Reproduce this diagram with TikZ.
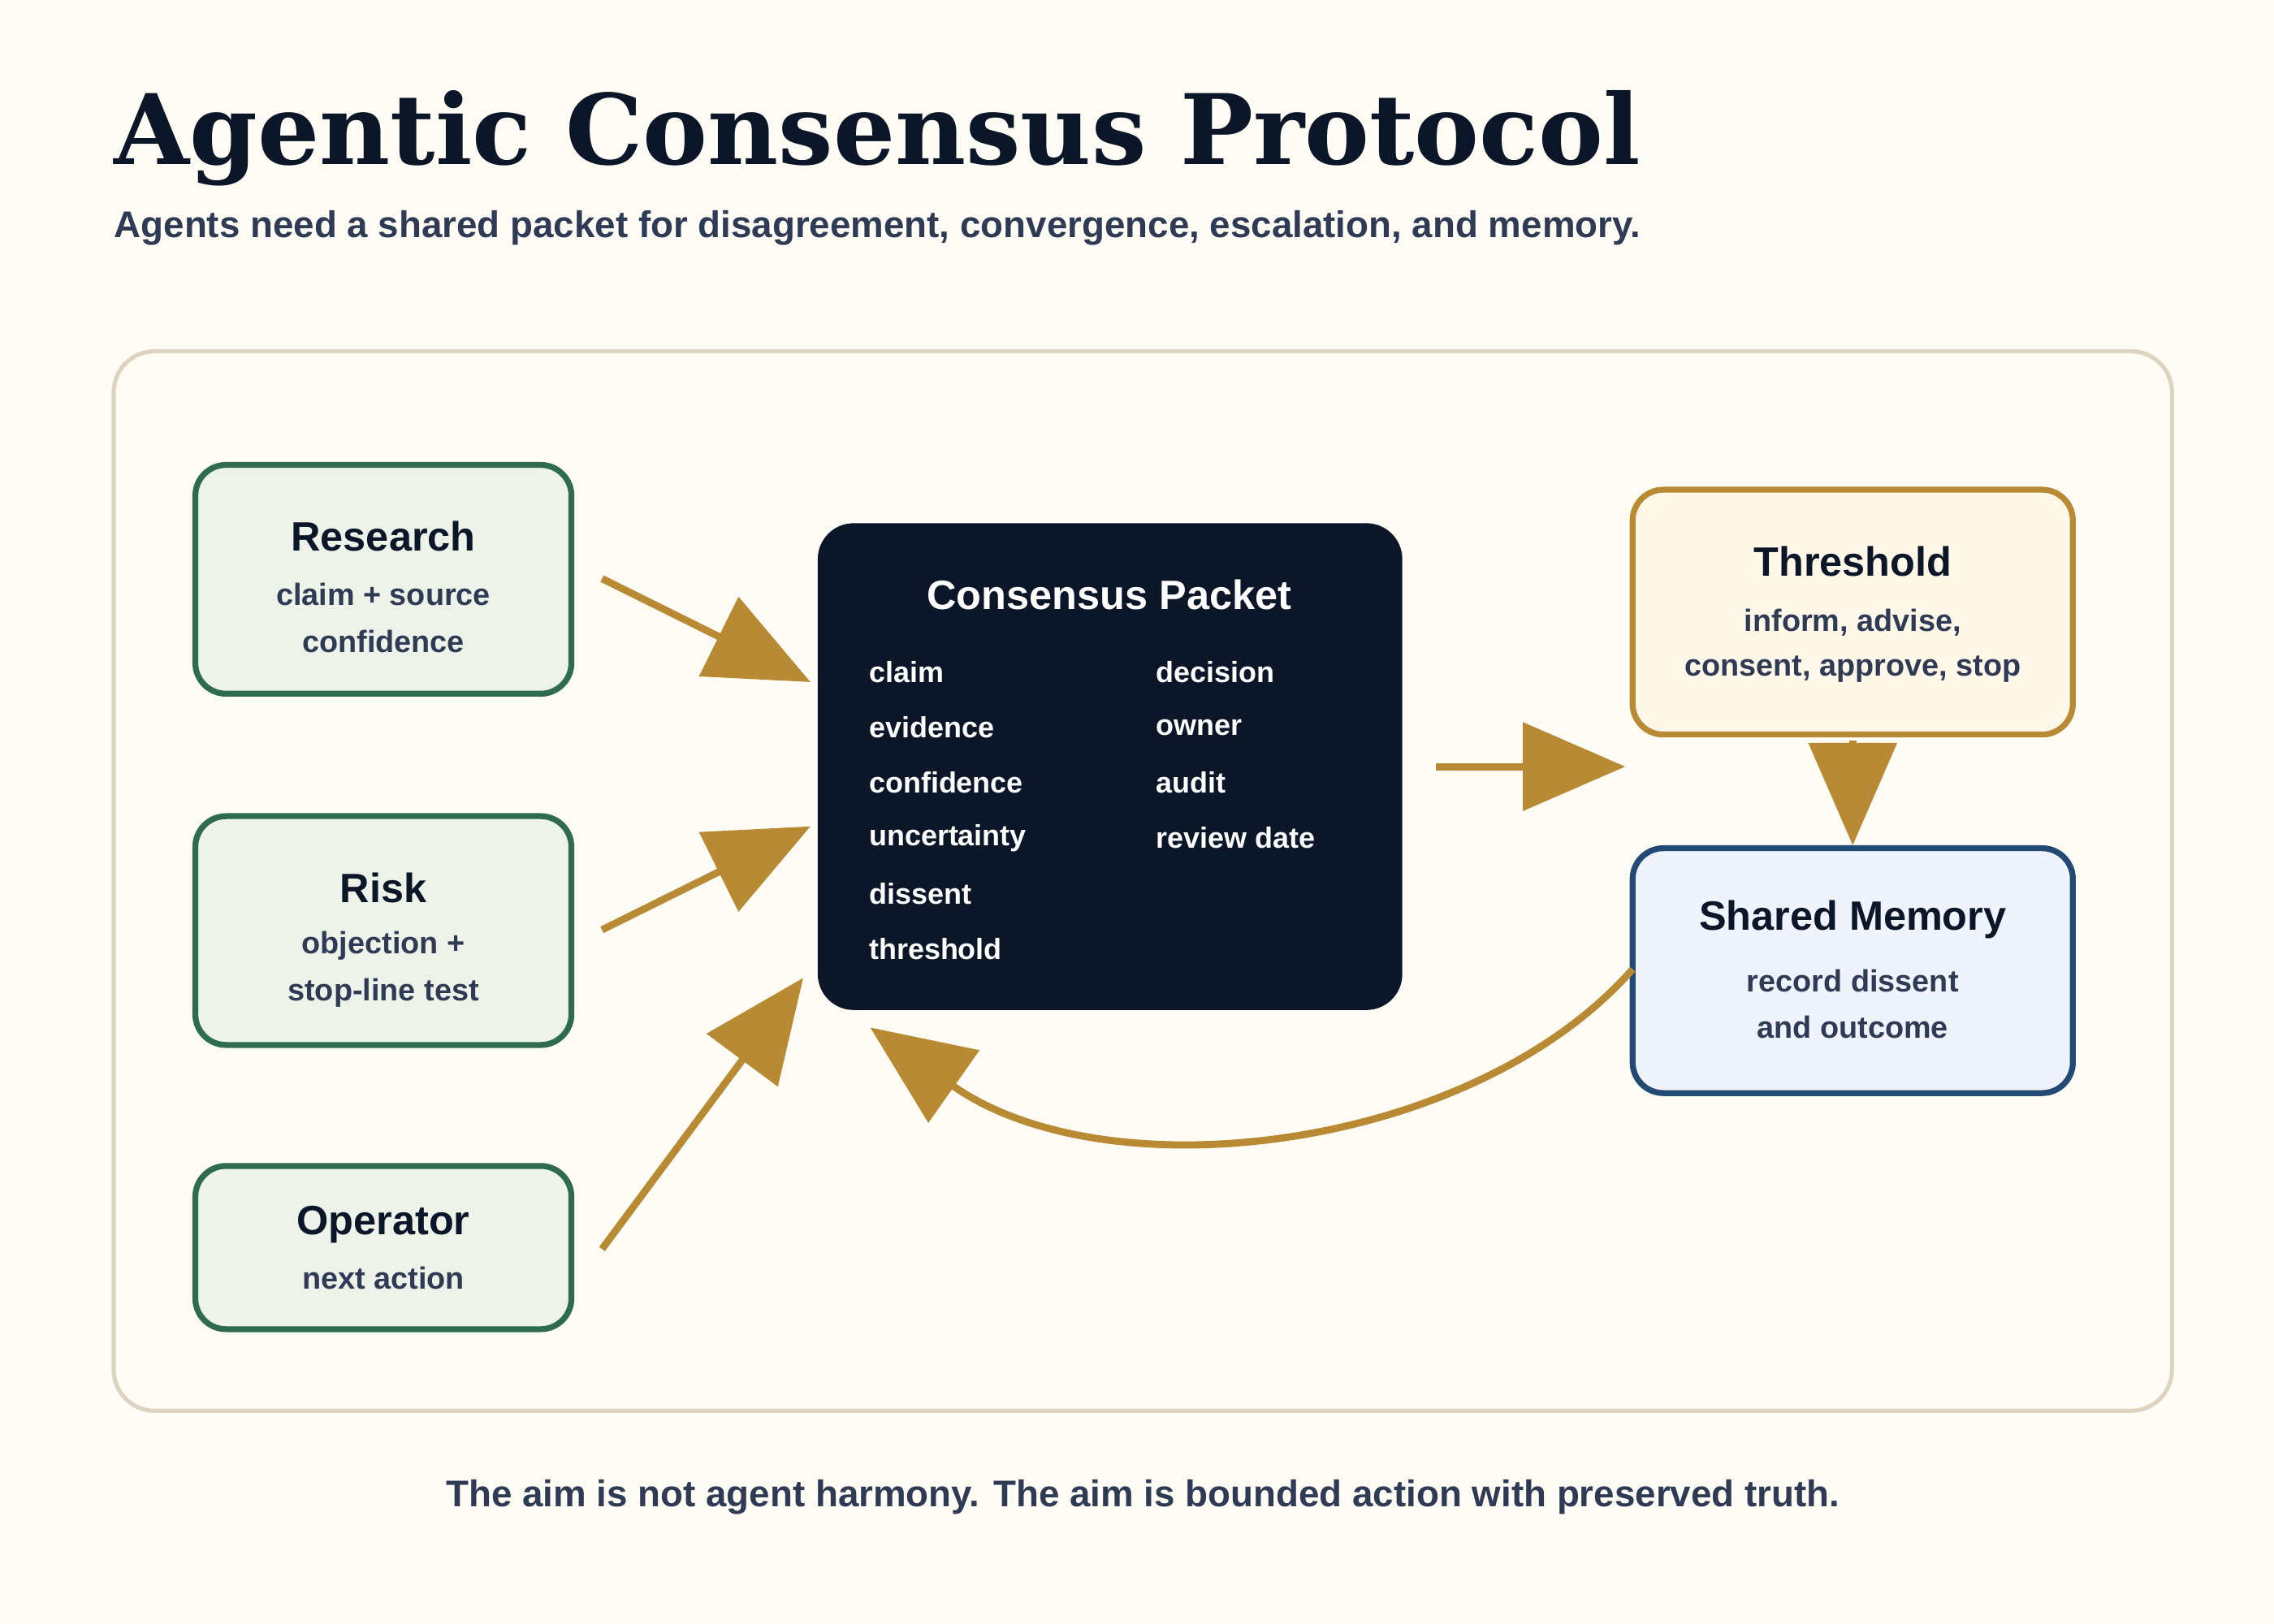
\documentclass[tikz,border=0pt]{standalone}
\usepackage{fontspec}
\setmainfont{Liberation Sans}
\newfontfamily\titlefont{DejaVu Serif}
\usetikzlibrary{arrows.meta}
\definecolor{bg}{HTML}{FEFCF4}
\definecolor{frame}{HTML}{DDD3C0}
\definecolor{grn}{HTML}{2E6B4F}
\definecolor{grnf}{HTML}{EEF3EA}
\definecolor{navy}{HTML}{0B1628}
\definecolor{gold}{HTML}{B98A34}
\definecolor{goldf}{HTML}{FFF8E8}
\definecolor{blu}{HTML}{234A75}
\definecolor{bluf}{HTML}{EEF3FC}
\definecolor{txt}{HTML}{2F3A55}
\begin{document}
\begin{tikzpicture}[x=0.02cm,y=-0.02cm,
  box/.style={rounded corners=12pt,line width=2.3pt},
  ttl/.style={font=\fontsize{16}{18}\selectfont\bfseries,text=navy},
  sub/.style={font=\fontsize{12}{14}\selectfont\bfseries,text=txt},
  itm/.style={font=\fontsize{11.4}{13}\selectfont\bfseries,text=white,anchor=west},
  arr/.style={draw=gold,line width=2.8pt,-{Triangle[length=40pt,width=34pt]},fill=gold}]
\fill[bg] (0,0) rectangle (1560,1114);
\useasboundingbox (0,0) rectangle (1560,1114);
\node[anchor=base west,inner sep=0,text=navy,font=\titlefont\fontsize{38}{42}\selectfont\bfseries] (title) at (78,113) {Agentic Consensus Protocol};
\node[anchor=base west,inner sep=0,text=txt,font=\fontsize{14.5}{16}\selectfont\bfseries] (subt) at (78,163) {Agents need a shared packet for disagreement, convergence, escalation, and memory.};
\draw[frame,line width=1.6pt,rounded corners=16pt] (78,241) rectangle (1490,968);
% left boxes
\draw[box,draw=grn,fill=grnf] (134,319) rectangle (392,476);
\node[ttl] (res) at (263,368) {Research};
\node[sub] at (263,408) {claim + source};
\node[sub] at (263,440) {confidence};
\draw[box,draw=grn,fill=grnf] (134,560) rectangle (392,717);
\node[ttl] (risk) at (263,609) {Risk};
\node[sub] at (263,649) {objection +};
\node[sub] at (263,681) {stop-line test};
\draw[box,draw=grn,fill=grnf] (134,800) rectangle (392,912);
\node[ttl] (op) at (263,840) {Operator};
\node[sub] at (263,877) {next action};
% packet
\fill[navy,rounded corners=14pt] (561,359) rectangle (962,693);
\node[ttl,text=white] (pk) at (761,408) {Consensus Packet};
\foreach \t [count=\i] in {claim,evidence,confidence,uncertainty,dissent,threshold}
  \node[itm] at (590,461+38*\i-38) {\t};
\foreach \t [count=\i] in {decision,owner,audit,review date}
  \node[itm] at (787,461+38*\i-38) {\t};
% right
\draw[box,draw=gold,fill=goldf] (1120,336) rectangle (1422,504);
\node[ttl] (th) at (1271,385) {Threshold};
\node[sub] at (1271,427) {inform, advise,};
\node[sub] at (1271,459) {consent, approve, stop};
\draw[box,draw=blu,fill=bluf] (1120,582) rectangle (1422,750);
\node[ttl] (mem) at (1271,631) {Shared Memory};
\node[sub] at (1271,673) {record dissent};
\node[sub] at (1271,705) {and outcome};
% arrows
\coordinate (a1) at (413,397); \coordinate (b1) at (556,468);
\coordinate (a2) at (413,638); \coordinate (b2) at (556,567);
\coordinate (a3) at (413,857); \coordinate (b3) at (551,671);
\coordinate (a4) at (985,526); \coordinate (b4) at (1115,526);
\coordinate (a5) at (1271,508); \coordinate (b5) at (1271,580);
\coordinate (a6) at (1120,665); \coordinate (b6) at (597,705);
\draw[arr] (a1) -- (b1);
\draw[arr] (a2) -- (b2);
\draw[arr] (a3) -- (b3);
\draw[arr] (a4) -- (b4);
\draw[arr] (a5) -- (b5);
\draw[arr,fill=none] (a6) .. controls (1010,790) and (760,820) .. (b6);
\node[text=txt,font=\fontsize{14.5}{16}\selectfont\bfseries] (foot) at (784,1027) {The aim is not agent harmony. The aim is bounded action with preserved truth.};
\end{tikzpicture}
\end{document}
